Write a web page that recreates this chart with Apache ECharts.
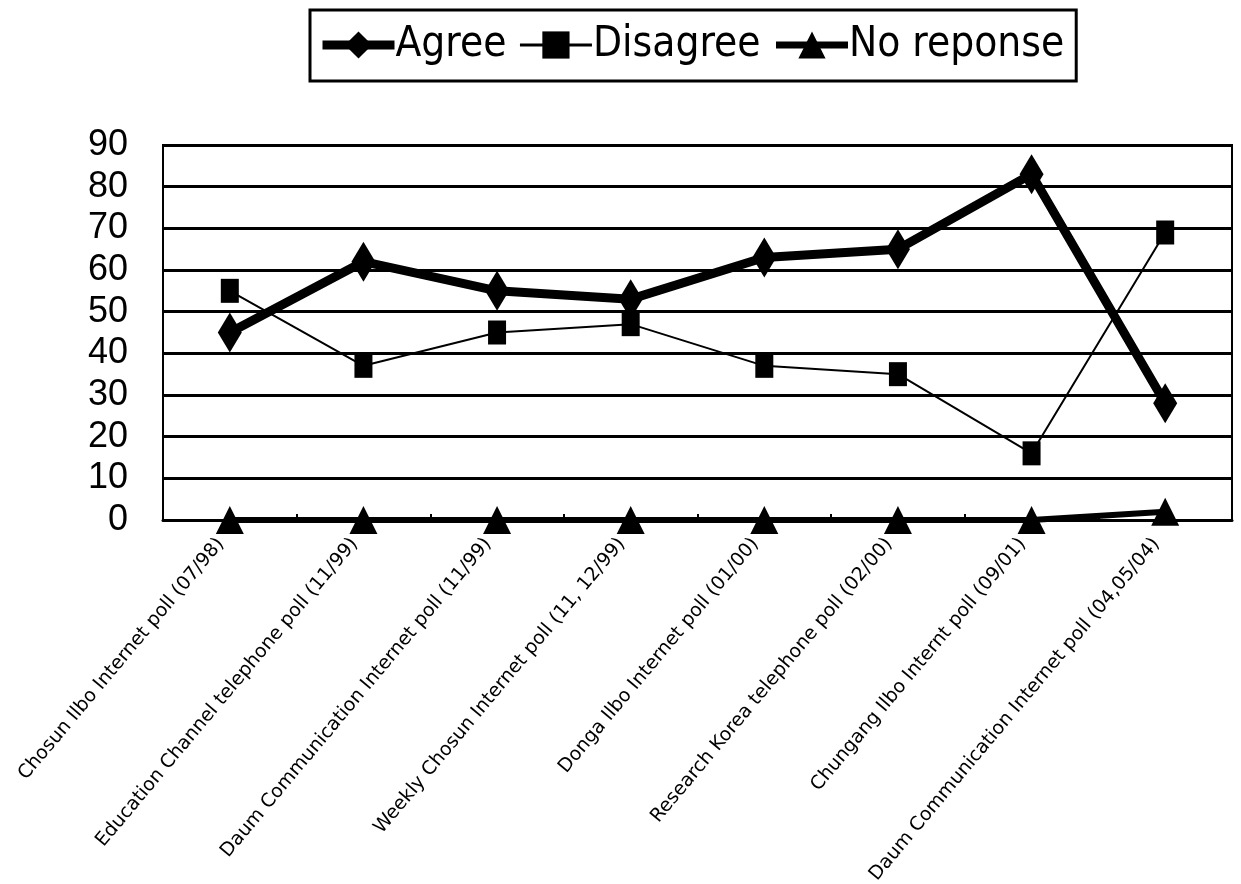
<!DOCTYPE html>
<html>
<head>
<meta charset="utf-8">
<script src="https://cdn.jsdelivr.net/npm/echarts@6/dist/echarts.min.js"></script>
<style>
html,body{margin:0;padding:0;background:#fff;}
#chart{width:1241px;height:884px;}
</style>
</head>
<body>
<div id="chart"></div>
<script>
const categories = [
  "Chosun Ilbo Internet poll (07/98)",
  "Education Channel telephone poll (11/99)",
  "Daum Communication Internet poll (11/99)",
  "Weekly Chosun Internet poll (11, 12/99)",
  "Donga Ilbo Internet poll (01/00)",
  "Research Korea telephone poll (02/00)",
  "Chungang Ilbo Internt poll (09/01)",
  "Daum Communication Internet poll (04,05/04)"
];
const agree = [45, 62, 55, 53, 63, 65, 83, 28];
const disagree = [55, 37, 45, 47, 37, 35, 16, 69];
const noResponse = [0, 0, 0, 0, 0, 0, 0, 2];
const yTicks = [0, 10, 20, 30, 40, 50, 60, 70, 80, 90];

const chart = echarts.init(document.getElementById('chart'), null, {renderer: 'canvas'});
chart.setOption({
  animation: false,
  backgroundColor: '#fff',
  legend: {
    left: 310,
    top: 10,
    padding: [14, 12, 15, 8],
    borderColor: '#000',
    borderWidth: 3,
    itemGap: 12,
    itemWidth: 72,
    itemHeight: 34,
    textStyle: {
      fontSize: 42,
      color: '#000',
      fontFamily: '"Liberation Sans Narrow", "DejaVu Sans Condensed", "Liberation Sans", sans-serif',
      padding: [0, 0, 0, -4]
    },
    data: [
      {name: 'Agree', lineStyle: {width: 9}},
      {name: 'Disagree', lineStyle: {width: 3}},
      {name: 'No reponse', lineStyle: {width: 7}}
    ]
  },
  grid: {
    left: 163,
    right: 9,
    top: 145,
    bottom: 364,
    show: true,
    borderColor: '#000',
    borderWidth: 2,
    containLabel: false,
    outerBoundsMode: 'none'
  },
  xAxis: {
    type: 'category',
    data: categories,
    boundaryGap: true,
    axisLine: {lineStyle: {color: '#000', width: 3}},
    axisTick: {show: true, inside: true, length: 6, lineStyle: {color: '#000', width: 2}},
    axisLabel: {
      rotate: 50,
      interval: 0,
      margin: 10,
      fontSize: 19,
      color: '#000',
      padding: [0, 14, 0, 0],
      fontFamily: '"DejaVu Sans", sans-serif'
    }
  },
  yAxis: {
    type: 'value',
    min: yTicks[0],
    max: yTicks[yTicks.length - 1],
    interval: 10,
    axisLine: {show: false},
    axisTick: {show: false},
    axisLabel: {
      margin: 35,
      fontSize: 36,
      color: '#000',
      fontFamily: '"Liberation Sans", Arial, sans-serif'
    },
    splitLine: {lineStyle: {color: '#000', width: 3}}
  },
  series: [
    {
      name: 'No reponse',
      type: 'line',
      data: noResponse,
      symbol: 'triangle',
      symbolSize: [28, 28],
      lineStyle: {color: '#000', width: 6},
      itemStyle: {color: '#000'},
      z: 3
    },
    {
      name: 'Disagree',
      type: 'line',
      data: disagree,
      symbol: 'rect',
      symbolSize: [18, 24],
      lineStyle: {color: '#000', width: 2},
      itemStyle: {color: '#000'},
      z: 4
    },
    {
      name: 'Agree',
      type: 'line',
      data: agree,
      symbol: 'diamond',
      symbolSize: [24, 40],
      lineStyle: {color: '#000', width: 9},
      itemStyle: {color: '#000'},
      z: 5
    }
  ]
});
</script>
</body>
</html>
